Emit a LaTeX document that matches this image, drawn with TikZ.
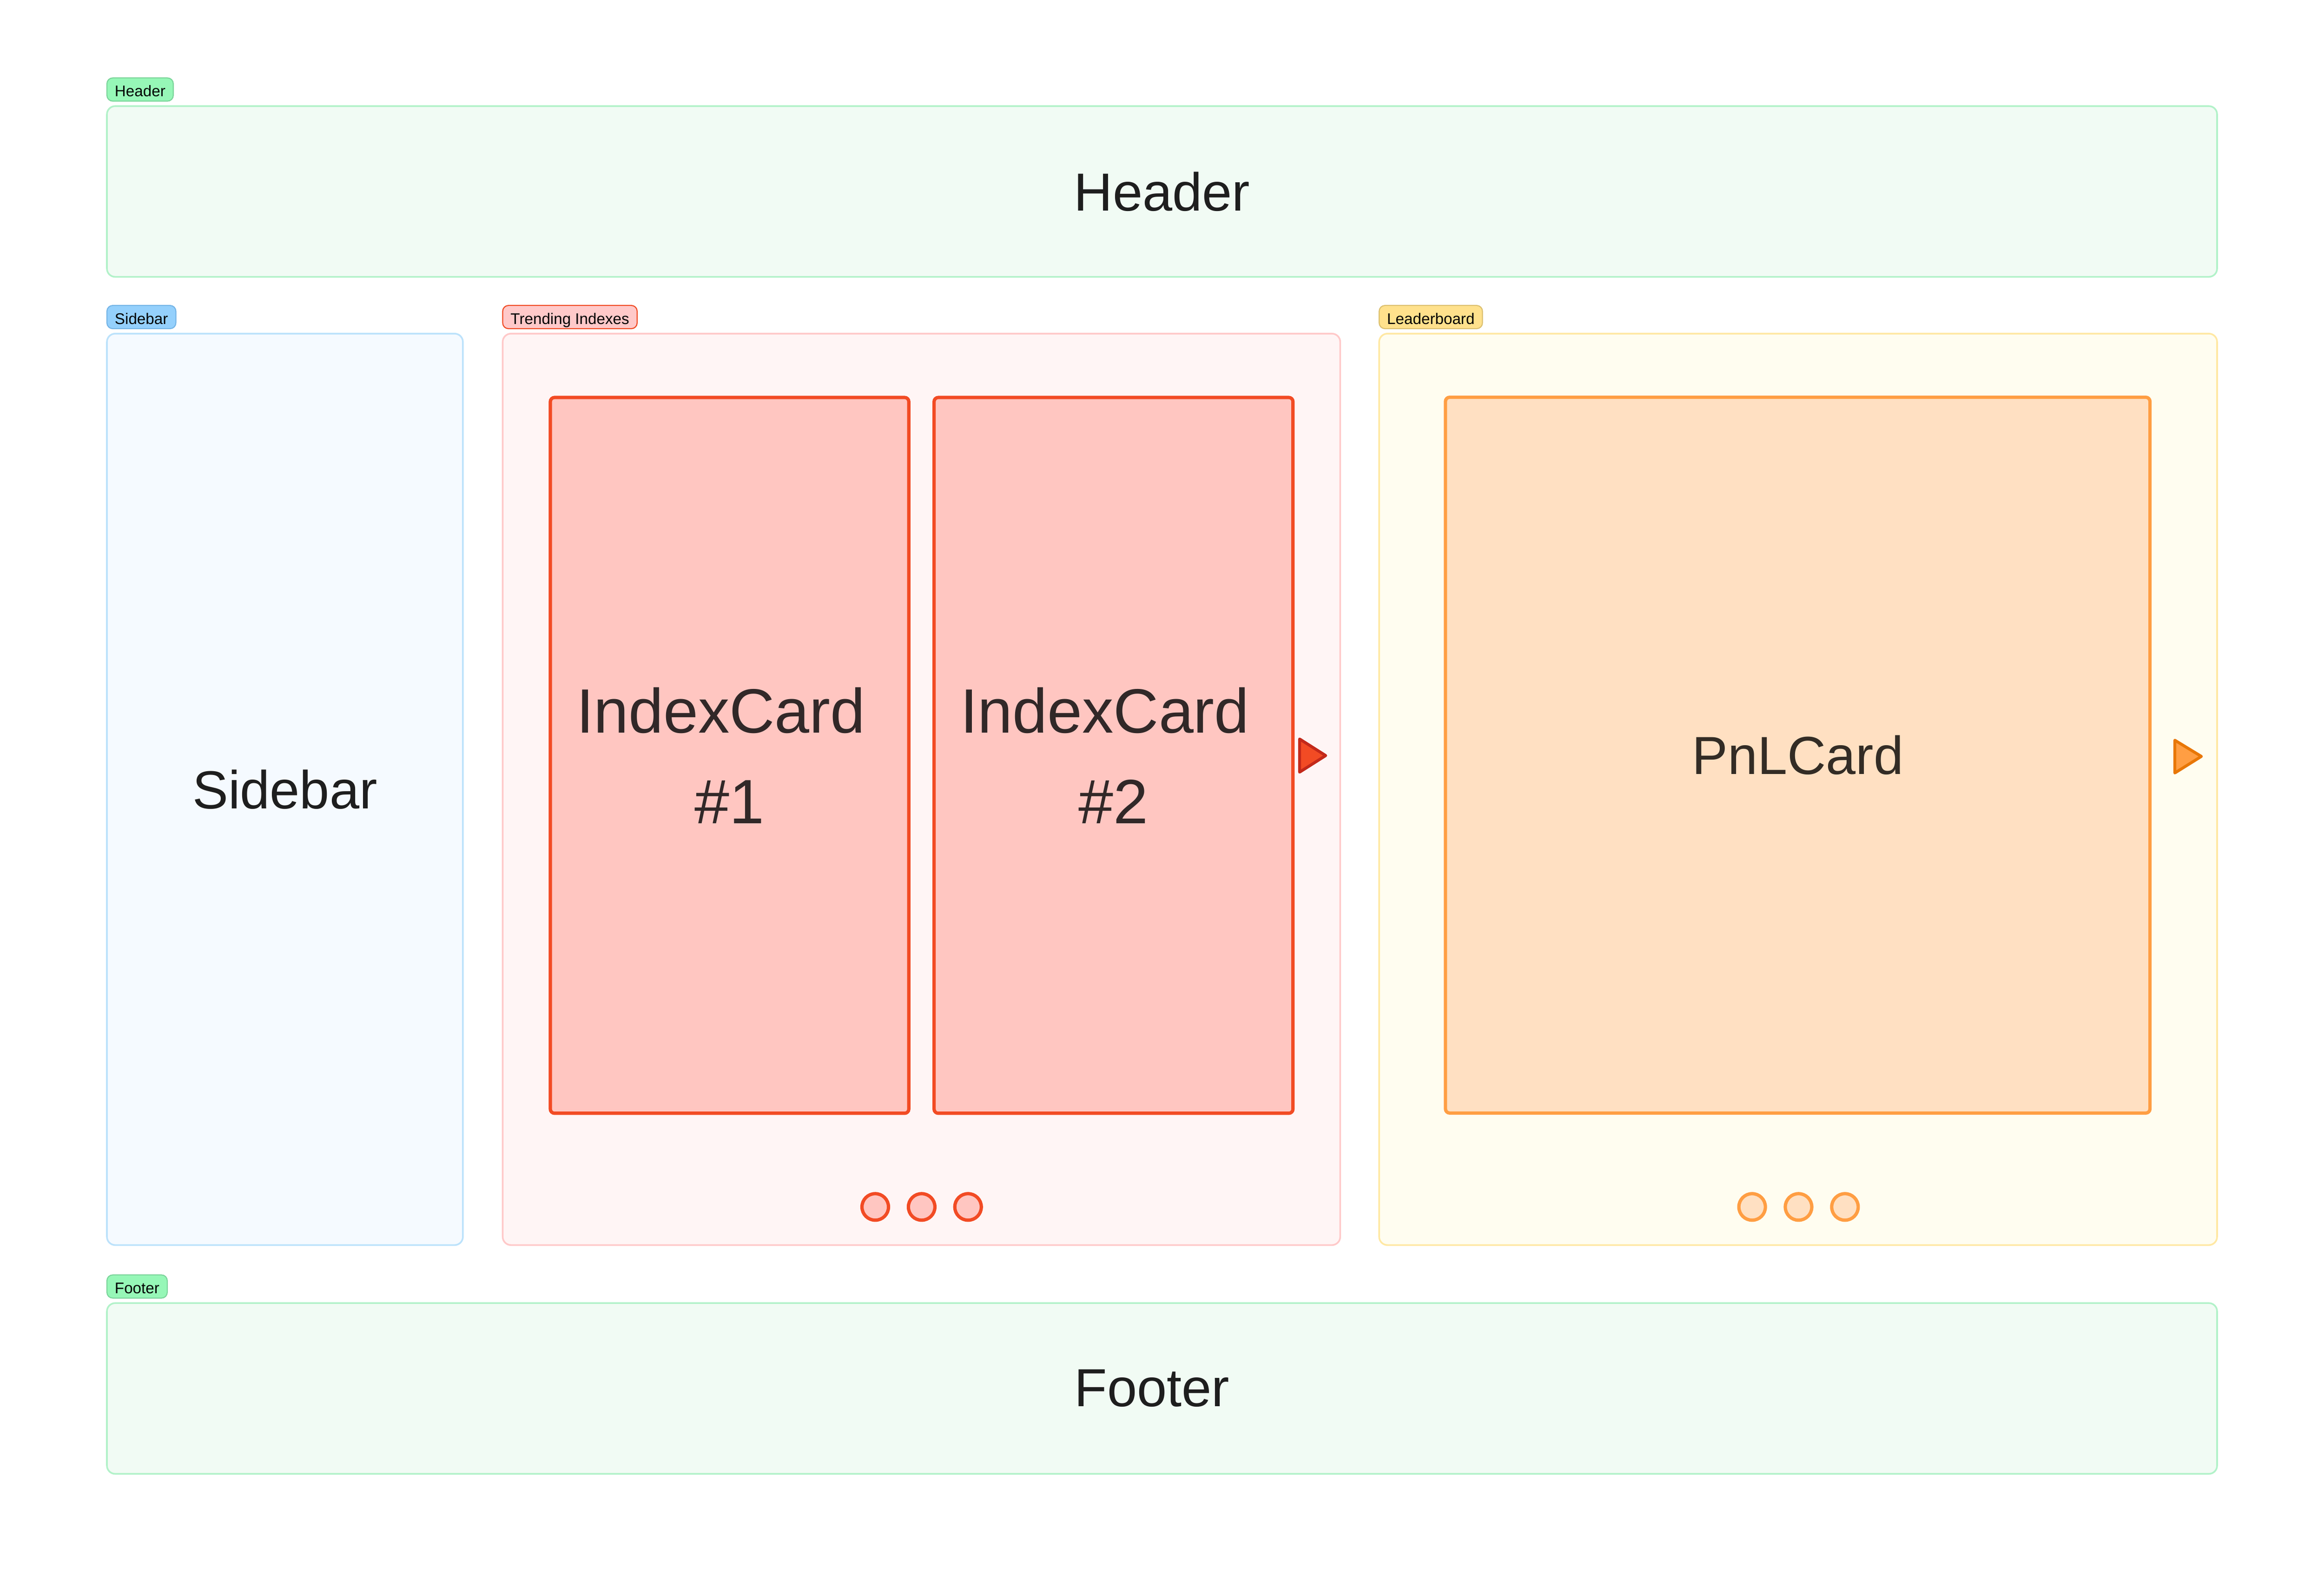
\documentclass[tikz,border=0pt]{standalone}
\usepackage{fontspec}
\setmainfont{Liberation Sans}
\usetikzlibrary{positioning}

\definecolor{hdrfill}{HTML}{F1FBF4}
\definecolor{hdrline}{HTML}{B2F2C9}
\definecolor{hdrtagfill}{HTML}{96F7B7}
\definecolor{hdrtagline}{HTML}{7BD49A}
\definecolor{sidefill}{HTML}{F5FAFF}
\definecolor{sideline}{HTML}{BCE2FB}
\definecolor{sidetagfill}{HTML}{94D0FC}
\definecolor{sidetagline}{HTML}{74B4E6}
\definecolor{trendfill}{HTML}{FFF5F5}
\definecolor{trendline}{HTML}{FFC9C9}
\definecolor{trendtagline}{HTML}{F04A23}
\definecolor{leadfill}{HTML}{FFFDF0}
\definecolor{leadline}{HTML}{FFE8A3}
\definecolor{leadtagfill}{HTML}{FFE18C}
\definecolor{leadtagline}{HTML}{DBBF6E}
\definecolor{cardfill}{HTML}{FFC6C1}
\definecolor{cardline}{HTML}{F24B24}
\definecolor{pnlfill}{HTML}{FFE0C2}
\definecolor{pnlline}{HTML}{FF9E43}
\definecolor{navredline}{HTML}{C3291A}
\definecolor{navorangeline}{HTML}{E87706}
\definecolor{inkdark}{HTML}{1E1E1E}
\definecolor{cardink}{HTML}{312828}
\definecolor{pnlink}{HTML}{332C25}

\begin{document}
\begin{tikzpicture}[
    zone/.style={draw, rounded corners=0.2cm, line width=0.04cm, inner sep=0pt, outer sep=0pt,
      text=inkdark, font=\fontsize{36.8}{44}\selectfont},
    tag/.style={draw, rounded corners=0.14cm, line width=0.025cm, inner xsep=0.19cm, inner ysep=0pt,
      minimum height=0.56cm, text height=0.34cm, text depth=0cm, outer sep=0pt,
      text=black, font=\fontsize{10.6}{12}\selectfont},
    card/.style={draw, rounded corners=0.1cm, line width=0.08cm, inner sep=0pt, outer sep=0pt,
      minimum height=17.27cm},
    dot/.style={circle, draw, line width=0.08cm, minimum size=0.64cm, inner sep=0pt},
    navarrow/.style={line width=0.07cm, line join=round}
  ]
  \useasboundingbox (0,0) rectangle (56.08,-38.14);

  % layout zones
  \node[zone, fill=hdrfill, draw=hdrline, minimum width=50.92cm, minimum height=4.12cm] (header) at (28.04,-4.62) {Header};
  \node[zone, fill=sidefill, draw=sideline, minimum width=8.59cm, minimum height=21.99cm] (sidebar) at (6.875,-19.045) {Sidebar};
  \node[zone, fill=trendfill, draw=trendline, minimum width=20.21cm, minimum height=21.99cm] (trending) at (22.235,-19.045) {};
  \node[zone, fill=leadfill, draw=leadline, minimum width=20.22cm, minimum height=21.99cm] (leaderboard) at (43.39,-19.045) {};
  \node[zone, fill=hdrfill, draw=hdrline, minimum width=50.92cm, minimum height=4.12cm] (footer) at (28.04,-33.50) {Footer\rule{0.48cm}{0pt}};

  % tags
  \node[tag, fill=hdrtagfill, draw=hdrtagline, above right=0.12cm and 0cm of header.north west] (headertag) {Header};
  \node[tag, fill=sidetagfill, draw=sidetagline, above right=0.12cm and 0cm of sidebar.north west] (sidebartag) {Sidebar};
  \node[tag, fill=trendline, draw=trendtagline, above right=0.12cm and 0cm of trending.north west] (trendingtag) {Trending Indexes};
  \node[tag, fill=leadtagfill, draw=leadtagline, above right=0.12cm and 0cm of leaderboard.north west] (leaderboardtag) {Leaderboard};
  \node[tag, fill=hdrtagfill, draw=hdrtagline, above right=0.12cm and 0cm of footer.north west] (footertag) {Footer};

  % cards
  \node[card, fill=cardfill, draw=cardline, minimum width=8.65cm, align=center, text=cardink,
    font=\fontsize{43}{62.3}\selectfont] (card1) at (17.605,-18.225) {IndexCard\phantom{\ }\\\#1};
  \node[card, fill=cardfill, draw=cardline, minimum width=8.66cm, align=center, text=cardink,
    font=\fontsize{43}{62.3}\selectfont] (card2) at (26.87,-18.225) {IndexCard\phantom{\ }\\\#2};
  \node[card, fill=pnlfill, draw=pnlline, minimum width=17.00cm, text=pnlink,
    font=\fontsize{36.8}{44}\selectfont] (pnl) at (43.38,-18.22) {PnLCard};

  % next arrows
  \filldraw[navarrow, fill=cardline, draw=navredline] ([xshift=0.16cm, yshift=0.395cm]card2.east)
    -- ([xshift=0.79cm, yshift=-0.005cm]card2.east) -- ([xshift=0.16cm, yshift=-0.405cm]card2.east) -- cycle;
  \filldraw[navarrow, fill=pnlline, draw=navorangeline] ([xshift=0.60cm, yshift=0.36cm]pnl.east)
    -- ([xshift=1.24cm, yshift=-0.03cm]pnl.east) -- ([xshift=0.60cm, yshift=-0.43cm]pnl.east) -- cycle;

  % pager dots
  \foreach \i in {1,2,3} {
    \node[dot, fill=cardfill, draw=cardline] (reddot\i) at ({20+1.12*\i},-29.12) {};
    \node[dot, fill=pnlfill, draw=pnlline] (orangedot\i) at ({41.16+1.12*\i},-29.12) {};
  }
\end{tikzpicture}
\end{document}
